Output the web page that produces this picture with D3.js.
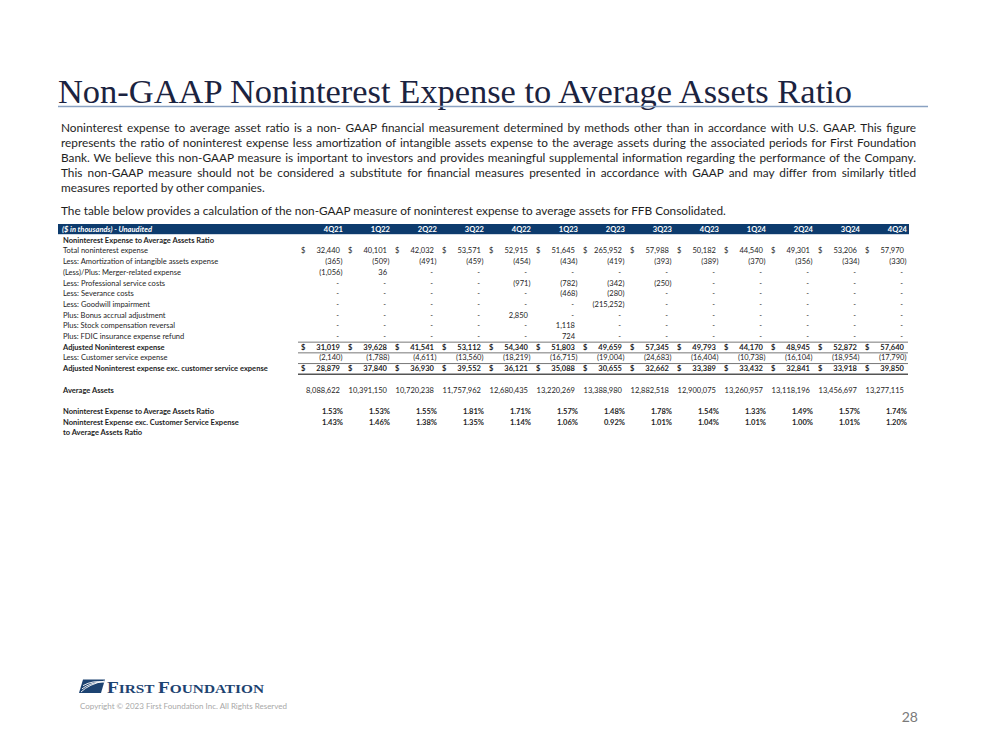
<!DOCTYPE html>
<html>
<head>
<meta charset="utf-8">
<script src="https://cdn.jsdelivr.net/npm/d3@7"></script>
<style>
  html, body { margin: 0; padding: 0; background: #ffffff; }
  svg { display: block; }
</style>
</head>
<body>
<svg id="chart" width="999" height="750"></svg>
<script>
// ---------------- DATA ----------------
const quarters = ['4Q21','1Q22','2Q22','3Q22','4Q22','1Q23','2Q23','3Q23','4Q23','1Q24','2Q24','3Q24','4Q24'];
const totalNoninterestExpense = [32440, 40101, 42032, 53571, 52915, 51645, 265952, 57988, 50182, 44540, 49301, 53206, 57970];
const amortizationIntangibles = [-365, -509, -491, -459, -454, -434, -419, -393, -389, -370, -356, -334, -330];
const mergerRelated = [-1056, 36, null, null, null, null, null, null, null, null, null, null, null];
const professionalService = [null, null, null, null, -971, -782, -342, -250, null, null, null, null, null];
const severanceCosts = [null, null, null, null, null, -468, -280, null, null, null, null, null, null];
const goodwillImpairment = [null, null, null, null, null, null, -215252, null, null, null, null, null, null];
const bonusAccrual = [null, null, null, null, 2850, null, null, null, null, null, null, null, null];
const stockCompReversal = [null, null, null, null, null, 1118, null, null, null, null, null, null, null];
const fdicRefund = [null, null, null, null, null, 724, null, null, null, null, null, null, null];
const adjustedNoninterest = [31019, 39628, 41541, 53112, 54340, 51803, 49659, 57345, 49793, 44170, 48945, 52872, 57640];
const customerService = [-2140, -1788, -4611, -13560, -18219, -16715, -19004, -24683, -16404, -10738, -16104, -18954, -17790];
const adjustedExcCustomer = [28879, 37840, 36930, 39552, 36121, 35088, 30655, 32662, 33389, 33432, 32841, 33918, 39850];
const averageAssets = [8088622, 10391150, 10720238, 11757962, 12680435, 13220269, 13388980, 12882518, 12900075, 13260957, 13118196, 13456697, 13277115];
const expenseRatio = [1.53, 1.53, 1.55, 1.81, 1.71, 1.57, 1.48, 1.78, 1.54, 1.33, 1.49, 1.57, 1.74];
const expenseRatioExcCustomer = [1.43, 1.46, 1.38, 1.35, 1.14, 1.06, 0.92, 1.01, 1.04, 1.01, 1.00, 1.01, 1.20];

const titleText = 'Non-GAAP Noninterest Expense to Average Assets Ratio';
const paragraphLines = [
  'Noninterest expense to average asset ratio is a non- GAAP financial measurement determined by methods other than in accordance with U.S. GAAP.  This figure',
  'represents the ratio of noninterest expense less amortization of intangible assets expense to the average assets during the associated periods for First Foundation',
  'Bank. We believe this non-GAAP measure is important to investors and  provides meaningful supplemental information regarding the performance of the Company.',
  'This non-GAAP measure should not be considered a substitute for financial measures presented in accordance with GAAP and may differ from similarly titled',
  'measures reported by other companies.'
];
const tableIntro = 'The table below provides a calculation of the non-GAAP measure of noninterest expense to average assets for FFB Consolidated.';
const headerLabel = '($ in thousands) - Unaudited';

// rows of the table (index = row position)
const rows = [
  {i: 0,  label: 'Noninterest Expense to Average Assets Ratio', bold: true},
  {i: 1,  label: 'Total noninterest expense', values: totalNoninterestExpense, dollar: true},
  {i: 2,  label: 'Less: Amortization of intangible assets expense', values: amortizationIntangibles},
  {i: 3,  label: '(Less)/Plus: Merger-related expense', values: mergerRelated},
  {i: 4,  label: 'Less: Professional service costs', values: professionalService},
  {i: 5,  label: 'Less: Severance costs', values: severanceCosts},
  {i: 6,  label: 'Less: Goodwill impairment', values: goodwillImpairment},
  {i: 7,  label: 'Plus: Bonus accrual adjustment', values: bonusAccrual},
  {i: 8,  label: 'Plus: Stock compensation reversal', values: stockCompReversal},
  {i: 9,  label: 'Plus: FDIC insurance expense refund', values: fdicRefund},
  {i: 10, label: 'Adjusted Noninterest expense', values: adjustedNoninterest, dollar: true, bold: true},
  {i: 11, label: 'Less: Customer service expense', values: customerService},
  {i: 12, label: 'Adjusted Noninterest expense exc. customer service expense', values: adjustedExcCustomer, dollar: true, bold: true},
  {i: 14, label: 'Average Assets', values: averageAssets, bold: true, valuesNormal: true},
  {i: 16, label: 'Noninterest Expense to Average Assets Ratio', values: expenseRatio, bold: true, pct: true},
  {i: 17, label: 'Noninterest Expense exc. Customer Service Expense', values: expenseRatioExcCustomer, bold: true, pct: true},
  {i: 18, label: 'to Average Assets Ratio', bold: true}
];

// ---------------- DRAW ----------------
const svg = d3.select('#chart');
const NAVY = '#0d3b6d';
const TXT = '#1e1e1e';
const SANS = 'Lato, "Open Sans", "DejaVu Sans", sans-serif';

svg.append('rect').attr('width', 999).attr('height', 750).attr('fill', '#ffffff');

// Title
svg.append('text')
  .attr('x', 58).attr('y', 103)
  .attr('font-family', '"Liberation Serif", "DejaVu Serif", serif')
  .attr('font-size', 34.5)
  .attr('fill', '#1b2340')
  .attr('textLength', 794)
  .attr('lengthAdjust', 'spacingAndGlyphs')
  .text(titleText);

svg.append('line')
  .attr('x1', 58).attr('x2', 928).attr('y1', 106.5).attr('y2', 106.5)
  .attr('stroke', '#8aa2c2').attr('stroke-width', 1.4);

// paragraph font-size calibration from the intro line (natural width ~666px)
const probe = svg.append('text').attr('font-family', SANS).attr('font-size', 12).text(tableIntro);
const natural = probe.node().getComputedTextLength();
probe.remove();
const pSize = 12 * Math.min(1.05, 666 / natural);

const paraX0 = 61, paraX1 = 916;
const paraBase = [132, 147, 162, 177, 192];
paragraphLines.forEach((ln, k) => {
  const txt = ln.replace(/\s+/g, ' ');
  const t = svg.append('text')
    .attr('x', paraX0).attr('y', paraBase[k])
    .attr('font-family', SANS).attr('font-size', pSize)
    .attr('fill', TXT)
    .text(txt);
  if (k < paragraphLines.length - 1) {
    const w = t.node().getComputedTextLength();
    const spaces = (txt.match(/ /g) || []).length;
    const ws = (paraX1 - paraX0 - w) / spaces;
    t.style('word-spacing', ws + 'px');
  }
});
svg.append('text')
  .attr('x', paraX0).attr('y', 215)
  .attr('font-family', SANS).attr('font-size', pSize)
  .attr('fill', TXT)
  .text(tableIntro);

// ---------------- TABLE ----------------
const x = d3.scalePoint().domain(quarters).range([340, 904]);
const y = d3.scaleLinear().domain([0, 18]).range([240, 432.6]);

// table font: Calibri-like condensed look, calibrated so the longest bold label spans ~205px
const tSize = 7.5;
const probe2 = svg.append('text').attr('font-family', SANS).attr('font-size', tSize).attr('font-weight', 'bold')
  .text('Adjusted Noninterest expense exc. customer service expense');
const nat2 = probe2.node().getComputedTextLength();
probe2.remove();
const sx = 205 / nat2;

function tText(parent, px, py, str, opts = {}) {
  return parent.append('text')
    .attr('transform', `translate(${px},${py}) scale(${sx},1)`)
    .attr('text-anchor', opts.anchor || 'start')
    .attr('font-weight', opts.bold ? 'bold' : 'normal')
    .attr('font-style', opts.italic ? 'italic' : 'normal')
    .text(str);
}

// header band
svg.append('rect').attr('x', 58).attr('y', 224).attr('width', 851).attr('height', 10.2).attr('fill', NAVY);
const hg = svg.append('g').attr('font-family', SANS).attr('font-size', tSize).attr('fill', '#ffffff');
tText(hg, 62, 232, headerLabel, {bold: true, italic: true});
quarters.forEach(q => tText(hg, x(q) + 3, 232, q, {bold: true, anchor: 'end'}));

const fmtNum = d3.format(',');
const fmtPct = d3.format('.2f');

const g = svg.append('g').attr('font-family', SANS).attr('font-size', tSize).attr('fill', TXT);

rows.forEach(r => {
  const by = y(r.i) + tSize * 0.36;
  tText(g, 63, by, r.label, {bold: r.bold});
  if (!r.values) return;
  const vb = r.bold && !r.valuesNormal;
  quarters.forEach((q, j) => {
    const v = r.values[j];
    const cx = x(q);
    if (r.dollar) tText(g, cx - 39, by, '$', {bold: vb});
    let s, dx;
    if (v === null || v === undefined) { s = '-'; dx = -1; }
    else if (r.pct) { s = fmtPct(v) + '%'; dx = 3; }
    else if (v < 0) { s = '(' + fmtNum(-v) + ')'; dx = 2.5; }
    else { s = fmtNum(v); dx = 0; }
    tText(g, cx + dx, by, s, {bold: vb, anchor: 'end'});
  });
});

// rule lines
const ruleX0 = 298, ruleX1 = 908;
const rules = [
  {between: [9, 10], w: 0.8},
  {between: [10, 11], w: 0.8},
  {between: [11, 12], w: 0.8},
  {between: [12, 13], w: 1.6}
];
svg.append('g').selectAll('line').data(rules).join('line')
  .attr('x1', ruleX0).attr('x2', ruleX1)
  .attr('y1', d => (y(d.between[0]) + y(d.between[1])) / 2 + 0.5)
  .attr('y2', d => (y(d.between[0]) + y(d.between[1])) / 2 + 0.5)
  .attr('stroke', '#555555').attr('stroke-width', d => d.w);

// ---------------- FOOTER / LOGO ----------------
const logo = svg.append('g');
logo.append('path')
  .attr('d', 'M83,679.5 L105,679.5 L101,693 L79,693 Z')
  .attr('fill', '#1d4371');
[0, 1, 2].forEach(k => {
  logo.append('path')
    .attr('d', `M${81 + k},${692 - k * 3.2} Q${89 + k * 2},${684 - k * 2} 104.5,${681 + k * 0.6}`)
    .attr('fill', 'none').attr('stroke', '#ffffff').attr('stroke-width', 0.9);
});
const logoText = logo.append('text')
  .attr('x', 107).attr('y', 693)
  .attr('font-family', '"Liberation Serif", "DejaVu Serif", serif')
  .attr('font-weight', 'bold').attr('fill', '#1d4371')
  .attr('textLength', 157).attr('lengthAdjust', 'spacingAndGlyphs');
logoText.append('tspan').attr('font-size', 17).text('F');
logoText.append('tspan').attr('font-size', 13.5).text('IRST ');
logoText.append('tspan').attr('font-size', 17).text('F');
logoText.append('tspan').attr('font-size', 13.5).text('OUNDATION');

svg.append('text')
  .attr('x', 80).attr('y', 709)
  .attr('font-family', SANS).attr('font-size', 7.5)
  .attr('fill', '#a8a8a8')
  .attr('textLength', 207).attr('lengthAdjust', 'spacingAndGlyphs')
  .text('Copyright \u00A9 2023 First Foundation Inc. All Rights Reserved');

svg.append('text')
  .attr('x', 918).attr('y', 722)
  .attr('text-anchor', 'end')
  .attr('font-family', SANS).attr('font-size', 14)
  .attr('fill', '#7a7a7a')
  .text('28');
</script>
</body>
</html>
